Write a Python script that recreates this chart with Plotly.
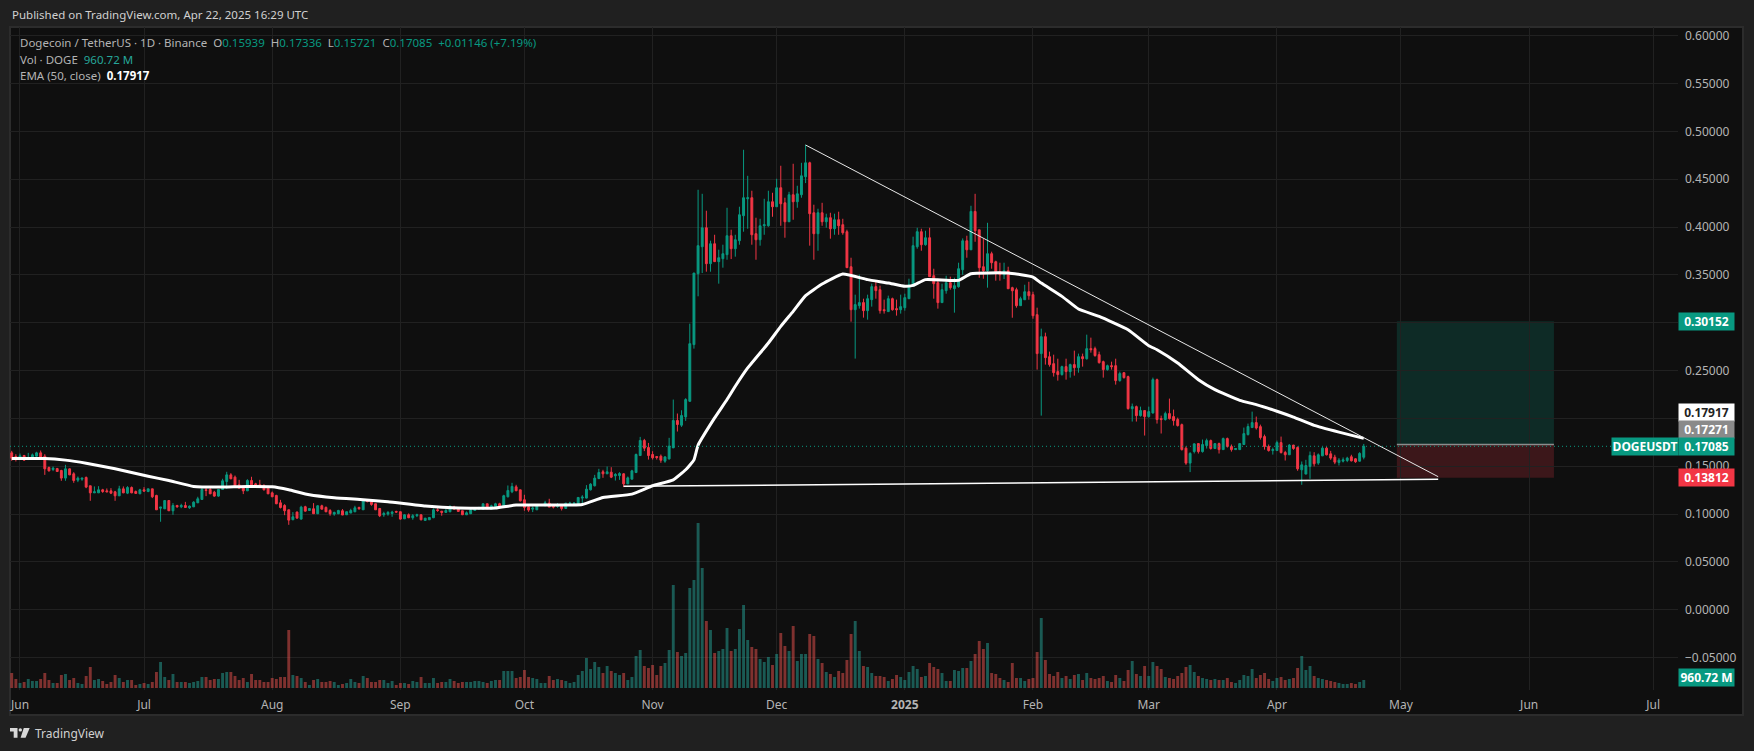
"""DOGE/USDT daily chart with EMA, volume, trendlines and a long position box."""

import pandas as pd
import plotly.graph_objs as go

UP = "#089981"
DOWN = "#f23645"
GRID = "#212121"
PANEL = "#0f0f0f"
FOOTER = "#202020"
TEXT = "#b4b4b4"
FONT = "Noto Sans"

# --- Data ---
opens = [
    .1640,.1602,.1588,.1612,.1570,.1581,.1605,.1640,.1605,.1487,
    .1466,.1476,.1456,.1376,.1473,.1421,.1355,.1365,.1383,.1296,
    .1222,.1222,.1254,.1243,.1243,.1233,.1191,.1264,.1219,.1278,
    .1236,.1212,.1254,.1236,.1264,.1195,.1062,.1055,.1142,.1035,
    .1090,.1076,.1090,.1066,.1076,.1118,.1153,.1254,.1257,.1229,
    .1188,.1257,.1341,.1410,.1386,.1306,.1289,.1243,.1351,.1316,
    .1306,.1299,.1271,.1222,.1195,.1118,.1090,.1045,.0941,.1021,
    .0948,.1077,.1038,.1056,.1004,.1087,.1070,.1038,.1000,.1004,
    .1035,.0993,.1011,.1024,.1070,.1045,.1143,.1129,.1108,.1059,
    .0993,.1000,.1007,.1028,.1025,.0951,.0993,.0962,.0983,.0993,
    .0934,.0941,.0962,.1045,.1031,.1018,.1024,.1073,.1059,.1035,
    .0993,.1004,.1038,.1056,.1052,.1108,.1052,.1080,.1108,.1080,
    .1181,.1233,.1285,.1254,.1150,.1077,.1052,.1045,.1091,.1087,
    .1115,.1087,.1080,.1087,.1059,.1105,.1108,.1101,.1167,.1167,
    .1254,.1296,.1372,.1442,.1421,.1438,.1400,.1403,.1421,.1316,
    .1365,.1434,.1612,.1769,.1696,.1623,.1602,.1605,.1553,.1577,
    .1692,.1978,.1929,.2016,.2179,.2771,.3512,.3794,.3992,.3617,
    .3825,.3638,.3669,.3711,.3909,.3773,.3857,.4118,.4295,.4306,
    .3930,.3867,.4013,.4013,.4264,.4212,.4410,.4253,.4055,.4337,
    .4264,.4337,.4525,.4671,.4149,.3930,.4149,.4055,.4097,.3982,
    .4076,.4024,.3951,.3585,.3136,.3178,.3210,.3126,.3241,.3377,
    .3345,.3136,.3116,.3251,.3147,.3136,.3157,.3251,.3380,.3794,
    .3951,.3815,.3888,.3491,.3418,.3210,.3335,.3418,.3356,.3377,
    .3554,.3856,.3762,.4163,.3971,.3585,.3543,.3721,.3637,.3533,
    .3501,.3543,.3366,.3345,.3178,.3240,.3324,.3293,.3084,.2677,
    .2854,.2645,.2572,.2489,.2458,.2541,.2489,.2562,.2530,.2645,
    .2624,.2729,.2729,.2666,.2593,.2510,.2551,.2551,.2395,.2478,
    .2437,.2102,.2123,.2029,.2082,.2019,.2057,.2405,.1998,.1988,
    .2050,.2019,.1988,.1935,.1689,.1533,.1654,.1737,.1653,.1716,
    .1768,.1685,.1737,.1674,.1789,.1706,.1674,.1674,.1727,.1831,
    .1904,.1956,.1914,.1810,.1706,.1664,.1664,.1747,.1644,.1620,
    .1721,.1696,.1463,.1418,.1498,.1609,.1533,.1609,.1689,.1630,
    .1595,.1540,.1553,.1560,.1599,.1578,.1553,.15939,
]
highs = [
    .1661,.1626,.1633,.1619,.1640,.1633,.1651,.1664,.1626,.1497,
    .1497,.1483,.1463,.1515,.1476,.1438,.1393,.1379,.1393,.1296,
    .1289,.1292,.1264,.1268,.1271,.1243,.1296,.1289,.1292,.1289,
    .1247,.1264,.1282,.1264,.1264,.1202,.1073,.1142,.1142,.1115,
    .1097,.1108,.1128,.1090,.1135,.1181,.1278,.1289,.1285,.1243,
    .1257,.1369,.1442,.1428,.1403,.1358,.1296,.1365,.1390,.1327,
    .1358,.1313,.1289,.1236,.1202,.1149,.1104,.1045,.1021,.1028,
    .1087,.1087,.1063,.1115,.1094,.1098,.1080,.1052,.1025,.1045,
    .1052,.1025,.1056,.1087,.1077,.1150,.1157,.1139,.1108,.1063,
    .1025,.1031,.1035,.1035,.1025,.1000,.1007,.1000,.1004,.1000,
    .0958,.0965,.1059,.1063,.1031,.1052,.1094,.1087,.1066,.1035,
    .1028,.1052,.1073,.1077,.1108,.1108,.1098,.1118,.1118,.1202,
    .1299,.1327,.1306,.1254,.1202,.1098,.1080,.1105,.1098,.1139,
    .1160,.1094,.1115,.1098,.1115,.1129,.1125,.1174,.1198,.1303,
    .1323,.1410,.1473,.1463,.1497,.1490,.1428,.1438,.1428,.1393,
    .1463,.1633,.1807,.1786,.1744,.1657,.1605,.1623,.1605,.1797,
    .2197,.2051,.2085,.2211,.2990,.3519,.4389,.4347,.4170,.3857,
    .3919,.3763,.3815,.4201,.3972,.3919,.4212,.4807,.4535,.4379,
    .4097,.4086,.4295,.4379,.4358,.4504,.4640,.4306,.4368,.4661,
    .4431,.4671,.4859,.4682,.4233,.4191,.4253,.4139,.4149,.4139,
    .4160,.4086,.3972,.3679,.3293,.3502,.3251,.3293,.3408,.3429,
    .3387,.3241,.3283,.3262,.3241,.3293,.3303,.3460,.3899,.3992,
    .3982,.3961,.3992,.3564,.3460,.3408,.3491,.3481,.3470,.3627,
    .3881,.3909,.4222,.4347,.3971,.3877,.4044,.3742,.3648,.3627,
    .3627,.3585,.3376,.3366,.3272,.3397,.3428,.3324,.3157,.2938,
    .2896,.2698,.2666,.2624,.2551,.2624,.2572,.2708,.2677,.2677,
    .2875,.2844,.2750,.2698,.2604,.2562,.2593,.2624,.2489,.2478,
    .2447,.2155,.2134,.2123,.2082,.2123,.2426,.2416,.2029,.2071,
    .2207,.2092,.2008,.1946,.1707,.1647,.1738,.1737,.1779,.1789,
    .1779,.1737,.1747,.1800,.1800,.1727,.1685,.1737,.1904,.1946,
    .2071,.2019,.1935,.1831,.1727,.1695,.1768,.1810,.1661,.1731,
    .1724,.1707,.1550,.1567,.1654,.1647,.1634,.1703,.1703,.1661,
    .1620,.1585,.1592,.1599,.1620,.1585,.1647,.17336,
]
lows = [
    .1557,.1550,.1584,.1557,.1567,.1577,.1602,.1584,.1410,.1445,
    .1449,.1442,.1348,.1348,.1407,.1327,.1334,.1348,.1271,.1139,
    .1222,.1222,.1222,.1229,.1209,.1139,.1191,.1219,.1209,.1219,
    .1212,.1209,.1236,.1229,.1167,.1045,.0920,.1055,.1035,.0993,
    .1066,.1062,.1066,.1055,.1073,.1115,.1149,.1188,.1209,.1181,
    .1181,.1254,.1264,.1365,.1285,.1271,.1209,.1243,.1299,.1282,
    .1285,.1247,.1209,.1177,.1104,.1059,.0989,.0888,.0937,.0955,
    .0941,.1028,.1035,.1004,.1000,.1049,.1021,.0983,.0983,.1000,
    .0990,.0993,.1011,.1021,.1045,.1045,.1122,.1087,.1045,.0969,
    .0972,.0983,.0972,.1014,.0941,.0948,.0958,.0941,.0969,.0934,
    .0930,.0938,.0958,.1024,.0983,.1014,.1021,.1049,.1024,.0990,
    .0990,.1000,.1035,.1045,.1049,.1052,.1049,.1077,.1077,.1077,
    .1174,.1219,.1240,.1132,.1035,.1024,.1021,.1045,.1087,.1084,
    .1073,.1059,.1066,.1038,.1056,.1094,.1094,.1101,.1108,.1164,
    .1247,.1289,.1365,.1379,.1421,.1376,.1351,.1358,.1282,.1316,
    .1365,.1430,.1612,.1658,.1570,.1570,.1570,.1536,.1536,.1570,
    .1692,.1863,.1911,.1974,.2172,.2729,.3276,.3519,.3533,.3533,
    .3634,.3408,.3575,.3658,.3665,.3690,.3815,.3951,.3982,.3815,
    .3658,.3805,.3919,.4003,.4107,.4212,.4013,.3888,.4055,.4076,
    .4201,.4306,.4459,.3805,.3658,.3752,.4013,.3993,.3878,.3919,
    .3919,.3919,.3575,.3011,.2625,.3147,.3053,.3032,.3168,.3251,
    .3095,.3095,.3116,.3126,.3074,.3095,.3126,.3251,.3380,.3773,
    .3752,.3805,.3481,.3251,.3147,.3210,.3303,.3345,.3105,.3366,
    .3501,.3679,.3762,.3846,.3470,.3460,.3366,.3564,.3439,.3439,
    .3456,.3355,.3052,.3157,.3178,.3240,.3240,.3042,.2510,.2029,
    .2562,.2541,.2437,.2395,.2447,.2405,.2426,.2447,.2478,.2541,
    .2614,.2687,.2645,.2572,.2426,.2499,.2510,.2353,.2384,.2416,
    .2092,.1967,.1967,.2019,.1821,.2008,.2050,.1946,.1842,.1977,
    .1988,.1925,.1915,.1664,.1515,.1439,.1634,.1633,.1643,.1685,
    .1674,.1685,.1633,.1674,.1695,.1653,.1674,.1674,.1727,.1821,
    .1904,.1883,.1779,.1674,.1653,.1622,.1664,.1633,.1560,.1620,
    .1672,.1453,.1306,.1418,.1369,.1498,.1515,.1606,.1613,.1567,
    .1522,.1508,.1540,.1543,.1550,.1536,.1550,.15721,
]
closes = [
    .1584,.1584,.1609,.1564,.1591,.1619,.1640,.1595,.1473,.1452,
    .1480,.1445,.1376,.1473,.1410,.1351,.1376,.1376,.1282,.1222,
    .1233,.1254,.1236,.1233,.1219,.1191,.1264,.1222,.1278,.1222,
    .1216,.1254,.1240,.1264,.1181,.1045,.1073,.1142,.1035,.1090,
    .1076,.1090,.1069,.1083,.1125,.1160,.1257,.1247,.1212,.1188,
    .1257,.1348,.1410,.1369,.1292,.1271,.1243,.1351,.1306,.1296,
    .1292,.1254,.1212,.1181,.1108,.1069,.1035,.0937,.0972,.0958,
    .1073,.1031,.1059,.1004,.1087,.1052,.1024,.1004,.1018,.1038,
    .0990,.1025,.1038,.1066,.1056,.1139,.1132,.1101,.1045,.0983,
    .1007,.1018,.1021,.1021,.0948,.0993,.0962,.0983,.0993,.0941,
    .0958,.0965,.1045,.1038,.1018,.1038,.1080,.1052,.1028,.0993,
    .1014,.1045,.1059,.1066,.1108,.1056,.1087,.1108,.1080,.1192,
    .1247,.1289,.1244,.1139,.1070,.1042,.1063,.1094,.1098,.1118,
    .1073,.1073,.1091,.1059,.1115,.1115,.1115,.1174,.1178,.1261,
    .1313,.1376,.1435,.1421,.1442,.1386,.1414,.1424,.1316,.1379,
    .1452,.1623,.1769,.1689,.1612,.1588,.1591,.1563,.1598,.1710,
    .1978,.1936,.2030,.2197,.2781,.3519,.3805,.3992,.3617,.3825,
    .3638,.3679,.3721,.3909,.3773,.3867,.4128,.4306,.4306,.3919,
    .3867,.4013,.4024,.4264,.4212,.4410,.4243,.4055,.4337,.4264,
    .4347,.4535,.4671,.4139,.3930,.4149,.4055,.4097,.3982,.4076,
    .4013,.3940,.3575,.3136,.3189,.3210,.3126,.3251,.3377,.3335,
    .3126,.3126,.3251,.3136,.3136,.3168,.3262,.3397,.3805,.3951,
    .3815,.3888,.3481,.3408,.3210,.3345,.3418,.3366,.3387,.3564,
    .3856,.3762,.4163,.3961,.3575,.3543,.3721,.3627,.3512,.3501,
    .3543,.3355,.3334,.3178,.3251,.3324,.3282,.3073,.2677,.2854,
    .2635,.2562,.2478,.2458,.2541,.2489,.2562,.2530,.2645,.2624,
    .2729,.2718,.2656,.2583,.2510,.2551,.2541,.2395,.2468,.2426,
    .2102,.2123,.2029,.2082,.2019,.2071,.2405,.1988,.1988,.2050,
    .1998,.1977,.1925,.1674,.1533,.1634,.1734,.1653,.1727,.1768,
    .1685,.1737,.1674,.1789,.1706,.1674,.1685,.1737,.1841,.1915,
    .1956,.1900,.1800,.1706,.1664,.1674,.1747,.1643,.1620,.1721,
    .1686,.1473,.1515,.1508,.1613,.1526,.1620,.1689,.1620,.1585,
    .1543,.1564,.1567,.1585,.1557,.1547,.1634,.17085,
]
# volume in millions of DOGE
volumes = [
    1800,1080,600,720,1080,840,840,1080,1800,960,
    600,600,1560,1680,960,1200,600,480,1440,2520,
    960,1080,840,480,720,1560,1200,720,960,960,
    360,480,600,480,720,1920,3120,1320,960,1680,
    720,720,720,600,720,840,1320,1320,960,1080,
    1080,1800,1920,1920,1440,960,1200,720,1680,960,
    960,720,720,1200,1080,1320,1320,6960,1560,1440,
    1200,720,360,960,1080,720,720,840,720,360,
    480,600,1080,720,600,1440,1200,720,720,960,
    960,600,840,360,600,600,480,840,720,1320,
    600,600,1200,600,720,720,1080,840,600,720,
    720,720,840,840,720,600,840,960,960,2040,
    2040,2040,1200,1320,2160,1320,1200,1080,600,600,
    1440,960,1080,960,840,600,720,1560,2040,3600,
    2280,3120,2520,1800,2640,2040,1800,1560,1800,960,
    1320,3840,4560,2640,2400,2760,1560,2640,3000,4560,
    12360,4320,3840,4200,12000,12960,19800,14400,8040,6960,
    4200,4440,4680,7200,4440,4680,7080,9960,5760,4920,
    4680,3480,3120,3720,2760,4080,6600,5040,4440,7440,
    3240,4080,4080,6480,6240,3480,3000,1920,1680,1320,
    2040,1800,3360,6480,8040,4440,2640,2520,1800,1440,
    1440,1320,840,1080,1560,1320,960,1920,2640,2280,
    1320,1440,3000,2520,2280,1800,840,840,2160,2040,
    2400,2400,3240,4080,5640,4680,5400,1800,1680,1200,
    960,720,3000,1200,1200,840,1080,1200,4320,8400,
    3360,1680,1440,1920,1200,1440,1080,1560,1680,960,
    1800,1200,1080,1200,1440,840,720,1560,1200,840,
    2160,3240,1680,1440,2640,1440,3120,2640,2280,1320,
    1200,1080,1440,1800,2520,2760,1920,1440,1200,1080,
    960,1080,960,960,1200,720,600,960,1560,1440,
    2280,1200,1560,1800,1080,840,1200,1320,960,1080,
    1200,2400,3840,2160,2640,1440,1200,1080,960,840,
    720,600,480,480,600,480,720,960.72,
]
# EMA(50) samples: index of the candle they sit on, and the value there
ema_index = [
    0,8,13,18,25,33,38,44,50,57,63,67,72,78,85,91,100,108,117,122,129,138,
    143,150,155,160,163,165,166,170,173,175,178,183,186,189,192,196,201,207,
    212,216,218,221,229,232,241,247,249,254,258,263,270,275,277,282,287,291,
    297,301,306,310,315,321,327,
]
ema_values = [
    .1581,.1581,.1564,.1532,.1473,.1396,.1351,.1289,.1282,.1289,.1285,.1254,
    .1202,.1171,.1150,.1129,.1084,.1063,.1063,.1094,.1094,.1101,
    .1174,.1209,.1296,.1358,.1463,.1567,.1720,.2005,.2197,.2336,.2527,.2788,
    .2962,.3119,.3283,.3404,.3509,.3450,.3415,.3380,.3390,.3450,.3442,.3512,
    .3519,.3477,.3414,.3275,.3143,.3066,.2927,.2760,.2718,.2579,.2405,.2301,
    .2189,.2144,.2075,.2014,.1927,.1857,.17917,
]
y_ticks = [round(-0.05 + 0.05 * i, 2) for i in range(14)]
# the 0.20 and 0.30 labels sit behind the price tags in the original
hidden_ticks = [0.2, 0.3]
month_ticks = [
    "2024-06-01", "2024-07-01", "2024-08-01", "2024-09-01", "2024-10-01",
    "2024-11-01", "2024-12-01", "2025-01-01", "2025-02-01", "2025-03-01",
    "2025-04-01", "2025-05-01", "2025-06-01", "2025-07-01",
]
month_labels = ["Jun", "Jul", "Aug", "Sep", "Oct", "Nov", "Dec", "<b>2025</b>",
                "Feb", "Mar", "Apr", "May", "Jun", "Jul"]

last_close = 0.17085
# drawings on the chart
trend_down = [("2024-12-08", 0.4857), ("2025-05-10", 0.1391)]
trend_flat = [("2024-10-25", 0.1290), ("2025-05-10", 0.1364)]
position_dates = ["2025-04-30", "2025-06-07"]
position_levels = {"target": 0.30152, "entry": 0.17271, "stop": 0.13812}

dates = pd.date_range("2024-05-30", periods=len(closes), freq="D")

# --- Page layout in pixels ---
W, H = 1754, 751
PL, PR, PT, PB = 10, 1678, 27, 690


def px(x):
    return (x - PL) / (PR - PL)


def py(y):
    return 1 - (y - PT) / (PB - PT)


fig = go.Figure()

# volume goes on the lower axis so the price traces draw over it
vol_colors = [
    "rgba(38,166,154,0.5)" if c >= o else "rgba(239,83,80,0.5)"
    for o, c in zip(opens, closes)
]
fig.add_trace(go.Bar(
    x=dates, y=volumes, marker=dict(color=vol_colors, line_width=0),
    yaxis="y", showlegend=False,
))
fig.add_trace(go.Scatter(
    x=[dates[i] for i in ema_index], y=ema_values, mode="lines",
    line=dict(color="#ffffff", width=3, shape="spline", smoothing=0.4),
    yaxis="y2", showlegend=False,
))
fig.add_trace(go.Candlestick(
    x=dates, open=opens, high=highs, low=lows, close=closes,
    increasing=dict(line=dict(color=UP, width=1), fillcolor=UP),
    decreasing=dict(line=dict(color=DOWN, width=1), fillcolor=DOWN),
    whiskerwidth=0, yaxis="y2", showlegend=False,
))

# --- Shapes ---
shapes = [
    dict(type="rect", xref="paper", yref="paper", layer="below",
         x0=px(10), x1=px(1743), y0=py(27), y1=py(715),
         fillcolor=PANEL, line=dict(color="#2c2c2c", width=2)),
    dict(type="rect", xref="x", yref="y2", layer="below",
         x0=position_dates[0], x1=position_dates[1],
         y0=position_levels["entry"], y1=position_levels["target"],
         fillcolor="rgba(8,153,129,0.2)", line_width=0),
    dict(type="rect", xref="x", yref="y2", layer="below",
         x0=position_dates[0], x1=position_dates[1],
         y0=position_levels["stop"], y1=position_levels["entry"],
         fillcolor="rgba(242,54,69,0.2)", line_width=0),
    dict(type="line", xref="x", yref="y2",
         x0=position_dates[0], x1=position_dates[1],
         y0=position_levels["entry"], y1=position_levels["entry"],
         line=dict(color="#8c8c8c", width=1.5)),
    dict(type="line", xref="paper", yref="y2", x0=0, x1=1,
         y0=last_close, y1=last_close,
         line=dict(color=UP, width=1, dash="1px,3px")),
    dict(type="line", xref="x", yref="y2",
         x0=trend_down[0][0], y0=trend_down[0][1],
         x1=trend_down[1][0], y1=trend_down[1][1],
         line=dict(color="#e8e8e8", width=1)),
    dict(type="line", xref="x", yref="y2",
         x0=trend_flat[0][0], y0=trend_flat[0][1],
         x1=trend_flat[1][0], y1=trend_flat[1][1],
         line=dict(color="#ffffff", width=1.5)),
    # TradingView mark in the footer
    dict(type="path", xref="paper", yref="paper", fillcolor="#d8d8d8", line_width=0,
         path=(f"M {px(10)} {py(728)} L {px(17.5)} {py(728)} L {px(17.5)} {py(737.7)} "
               f"L {px(13.7)} {py(737.7)} L {px(13.7)} {py(731.5)} L {px(10)} {py(731.5)} Z")),
    dict(type="circle", xref="paper", yref="paper", fillcolor="#d8d8d8", line_width=0,
         x0=px(18.6), x1=px(22), y0=py(731.6), y1=py(728.2)),
    dict(type="path", xref="paper", yref="paper", fillcolor="#d8d8d8", line_width=0,
         path=(f"M {px(23.8)} {py(728)} L {px(29.7)} {py(728)} L {px(25.6)} {py(737.7)} "
               f"L {px(20.6)} {py(737.7)} Z")),
]


# --- Text ---
def label(x, y, text, size=11.5, color=TEXT, anchor="left"):
    return dict(
        xref="paper", yref="paper", x=px(x), y=py(y), text=text, showarrow=False,
        xanchor=anchor, yanchor="middle", align=anchor,
        font=dict(family=FONT, size=size, color=color),
    )


def price_tag(x0, x1, y0, y1, text, bg, color="#ffffff"):
    return dict(
        xref="paper", yref="paper", x=px((x0 + x1) / 2), y=py((y0 + y1) / 2),
        text=f"<b>{text}</b>", showarrow=False, xanchor="center", yanchor="middle",
        width=x1 - x0, height=y1 - y0, bgcolor=bg, borderpad=0, align="center",
        font=dict(family=FONT, size=12, color=color),
    )


def val(s):
    return f'<span style="color:{UP}">{s}</span>'


header = ("Dogecoin / TetherUS · 1D · Binance  "
          f"O{val('0.15939')}  H{val('0.17336')}  L{val('0.15721')}  C{val('0.17085')}  "
          f"{val('+0.01146 (+7.19%)')}")

annotations = [
    label(10, 14, "Published on TradingView.com, Apr 22, 2025 16:29 UTC", color="#d0d0d0"),
    label(18, 42, header),
    label(18, 59, "Vol · DOGE  <span style=\"color:#26a69a\">960.72 M</span>"),
    label(18, 76, 'EMA (50, close)  <b><span style="color:#ffffff">0.17917</span></b>'),
    label(33, 733, "TradingView", size=12, color="#d0d0d0"),
    price_tag(1679, 1734, 313, 330, "0.30152", UP),
    price_tag(1679, 1734, 404, 421, "0.17917", "#ffffff", "#222222"),
    price_tag(1679, 1734, 421, 438, "0.17271", "#8a8a8a"),
    price_tag(1679, 1734, 438, 454.5, "0.17085", UP),
    price_tag(1612, 1678, 438, 454.5, "DOGEUSDT", UP),
    price_tag(1679, 1734, 469, 485.5, "0.13812", DOWN),
    price_tag(1679, 1734, 669, 686, "960.72 M", UP),
]

# --- Layout ---
fig.update_layout(
    width=W, height=H,
    margin=dict(l=PL, r=W - PR, t=PT, b=H - PB, autoexpand=False),
    paper_bgcolor=FOOTER,
    plot_bgcolor="rgba(0,0,0,0)",
    font=dict(family=FONT, size=12, color=TEXT),
    bargap=0.3,
    boxgap=0.35,
    showlegend=False,
    shapes=shapes,
    annotations=annotations,
    xaxis=dict(
        type="date", range=["2024-05-29 14:00", "2025-07-07 00:00"],
        rangeslider=dict(visible=False),
        tickmode="array", tickvals=month_ticks, ticktext=month_labels,
        showgrid=True, gridcolor=GRID, gridwidth=1, ticks="", zeroline=False,
        showline=False, tickfont=dict(family=FONT, size=12, color=TEXT),
        ticklabelstandoff=6,
    ),
    yaxis=dict(
        range=[-240, 79320], visible=False, showgrid=False, zeroline=False,
    ),
    yaxis2=dict(
        overlaying="y", side="right", range=[-0.0838, 0.609],
        tickmode="array", tickvals=y_ticks,
        ticktext=["" if v in hidden_ticks else f"{v:.5f}".replace("-", "\u2212") for v in y_ticks],
        showgrid=True, gridcolor=GRID, gridwidth=1, zeroline=False, ticks="",
        showline=False, tickfont=dict(family=FONT, size=12, color=TEXT),
        ticklabelstandoff=6,
    ),
)

fig.write_html(
    "out.html",
    config={"displayModeBar": False},
    post_script="document.body.style.margin='0';document.body.style.background='#202020';",
)
